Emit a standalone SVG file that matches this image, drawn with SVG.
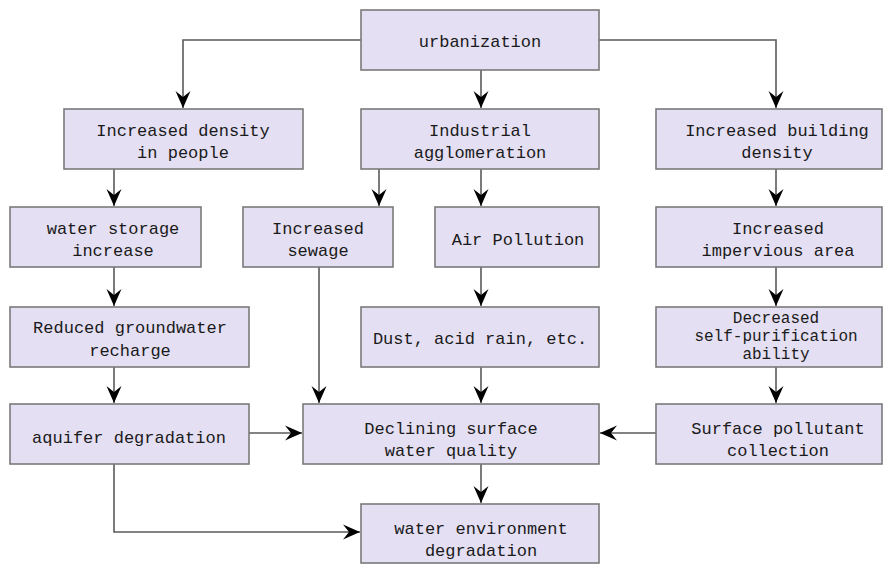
<svg xmlns="http://www.w3.org/2000/svg" width="885" height="565" viewBox="0 0 885 565">
<style>
.box{fill:#e4dff2;stroke:#7a7a7a;stroke-width:1.6}
.t{font-family:"Liberation Mono","DejaVu Sans Mono",monospace;font-size:17px;fill:#1a1a1a;text-anchor:middle}
.s{font-size:16px}
.c{fill:none;stroke:#5a5a5a;stroke-width:1.6}
</style>
<defs>
<marker id="ah" markerUnits="userSpaceOnUse" markerWidth="20" markerHeight="20" refX="0" refY="0" viewBox="-18 -9 20 18" orient="auto">
<path d="M0,0 L-17,-7.5 L-11,0 L-17,7.5 Z" fill="#000"/>
</marker>
</defs>
<rect width="885" height="565" fill="#fff"/>
<g id="connectors">
<path class="c" d="M361,40 H183 V108" marker-end="url(#ah)"/>
<path class="c" d="M481,70 V108" marker-end="url(#ah)"/>
<path class="c" d="M599,40 H776 V108" marker-end="url(#ah)"/>
<path class="c" d="M114,169 V206" marker-end="url(#ah)"/>
<path class="c" d="M379,169 V206" marker-end="url(#ah)"/>
<path class="c" d="M481,169 V206" marker-end="url(#ah)"/>
<path class="c" d="M776,169 V206" marker-end="url(#ah)"/>
<path class="c" d="M114,267 V306" marker-end="url(#ah)"/>
<path class="c" d="M481,267 V306" marker-end="url(#ah)"/>
<path class="c" d="M776,267 V306" marker-end="url(#ah)"/>
<path class="c" d="M114,367 V403" marker-end="url(#ah)"/>
<path class="c" d="M319,267 V403" marker-end="url(#ah)"/>
<path class="c" d="M481,367 V403" marker-end="url(#ah)"/>
<path class="c" d="M776,367 V403" marker-end="url(#ah)"/>
<path class="c" d="M249,433 H302" marker-end="url(#ah)"/>
<path class="c" d="M656,433 H600" marker-end="url(#ah)"/>
<path class="c" d="M481,464 V503" marker-end="url(#ah)"/>
<path class="c" d="M114,464 V532 H360" marker-end="url(#ah)"/>
</g>
<g id="urbanization">
<rect class="box" x="361" y="10" width="238" height="60"/>
<text class="t" x="480" y="47">urbanization</text>
</g>
<g id="density-people">
<rect class="box" x="64" y="109" width="239" height="60"/>
<text class="t" x="183" y="136">Increased density</text>
<text class="t" x="183" y="158">in people</text>
</g>
<g id="industrial">
<rect class="box" x="361" y="109" width="238" height="60"/>
<text class="t" x="480" y="136">Industrial</text>
<text class="t" x="480" y="158">agglomeration</text>
</g>
<g id="building-density">
<rect class="box" x="656" y="109" width="226" height="60"/>
<text class="t" x="777" y="136">Increased building</text>
<text class="t" x="777" y="158">density</text>
</g>
<g id="water-storage">
<rect class="box" x="10" y="207" width="191" height="60"/>
<text class="t" x="113" y="234">water storage</text>
<text class="t" x="113" y="256">increase</text>
</g>
<g id="sewage">
<rect class="box" x="243" y="207" width="150" height="60"/>
<text class="t" x="318" y="234">Increased</text>
<text class="t" x="318" y="256">sewage</text>
</g>
<g id="air-pollution">
<rect class="box" x="435" y="207" width="164" height="60"/>
<text class="t" x="518" y="245">Air Pollution</text>
</g>
<g id="impervious">
<rect class="box" x="656" y="207" width="226" height="60"/>
<text class="t" x="778" y="234">Increased</text>
<text class="t" x="778" y="256">impervious area</text>
</g>
<g id="groundwater">
<rect class="box" x="10" y="307" width="239" height="60"/>
<text class="t" x="130" y="333">Reduced groundwater</text>
<text class="t" x="130" y="356">recharge</text>
</g>
<g id="dust">
<rect class="box" x="361" y="307" width="238" height="60"/>
<text class="t" x="480" y="344">Dust, acid rain, etc.</text>
</g>
<g id="self-purification">
<rect class="box" x="656" y="307" width="226" height="60"/>
<text class="t s" x="776" y="323">Decreased</text>
<text class="t s" x="776" y="341">self-purification</text>
<text class="t s" x="776" y="359">ability</text>
</g>
<g id="aquifer">
<rect class="box" x="10" y="404" width="239" height="60"/>
<text class="t" x="129" y="443">aquifer degradation</text>
</g>
<g id="surface-quality">
<rect class="box" x="303" y="404" width="296" height="60"/>
<text class="t" x="451" y="434">Declining surface</text>
<text class="t" x="451" y="456">water quality</text>
</g>
<g id="pollutant-collection">
<rect class="box" x="656" y="404" width="226" height="60"/>
<text class="t" x="778" y="434">Surface pollutant</text>
<text class="t" x="778" y="456">collection</text>
</g>
<g id="water-environment">
<rect class="box" x="361" y="504" width="238" height="59"/>
<text class="t" x="481" y="534">water environment</text>
<text class="t" x="481" y="556">degradation</text>
</g>
</svg>
